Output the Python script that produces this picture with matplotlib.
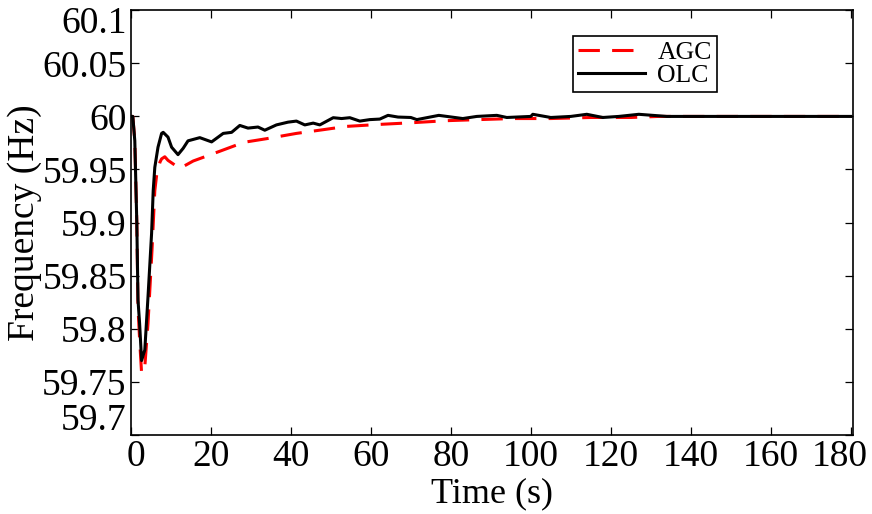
import matplotlib.pyplot as plt
import matplotlib.transforms as mtransforms
from matplotlib.ticker import FormatStrFormatter

plt.rcParams['font.family'] = ['Liberation Serif', 'DejaVu Serif']

# OLC trace
t_olc = [0, 0.5, 1.0, 1.5, 1.8, 2.2, 2.7, 3.5, 4.3, 5.2,
         5.6, 6.0, 6.8, 7.7, 8.1, 9.3, 10.2, 11.8, 13.1, 14.3,
         17.25, 20.2, 23.1, 25.2, 27.25, 29.3, 31.8, 33.5, 36.4, 39.3,
         41.4, 43.5, 45.6, 47.25, 50.6, 52.7, 54.75, 57.25, 59.75, 62.25,
         64.3, 66.8, 70, 71.5, 77, 83, 86.5, 91.5, 94, 100,
         100.5, 105, 110, 114, 118, 122, 127, 134, 140, 180]
f_olc = [60, 60, 59.977, 59.90, 59.827, 59.805, 59.770, 59.78, 59.83, 59.89,
         59.93, 59.952, 59.971, 59.984, 59.985, 59.9805, 59.971, 59.964, 59.970, 59.977,
         59.980, 59.976, 59.984, 59.985, 59.9915, 59.989, 59.990, 59.987, 59.992, 59.9946,
         59.9956, 59.992, 59.9937, 59.992, 59.9988, 59.998, 59.9988, 59.9956, 59.997, 59.9975,
         60.001, 59.9994, 59.999, 59.997, 60.001, 59.998, 60.0, 60.001, 59.999, 60.0,
         60.002, 59.999, 60.0, 60.002, 59.999, 60.0, 60.002, 60.0, 60.0, 60.0]

# AGC trace
t_agc = [0, 0.5, 1.0, 1.5, 1.8, 2.2, 2.7, 3.5, 4.3, 5.3,
         6.0, 6.5, 7.3, 7.7, 8.5, 9.3, 12.25, 15.6, 18.5, 21.4,
         26.4, 28.9, 33.9, 41.4, 48.1, 53.9, 62.25, 70, 79, 87,
         95.5, 105, 115, 125, 132, 180]
f_agc = [60, 60, 59.977, 59.90, 59.82, 59.79, 59.758, 59.764, 59.805, 59.874,
         59.93, 59.946, 59.957, 59.960, 59.962, 59.9586, 59.951, 59.958, 59.962, 59.966,
         59.973, 59.976, 59.979, 59.984, 59.9875, 59.9906, 59.9925, 59.994, 59.996, 59.997,
         59.998, 59.998, 59.999, 59.999, 60.0, 60.0]

xticks = [0, 20, 40, 60, 80, 100, 120, 140, 160, 180]
yticks = [59.7, 59.75, 59.8, 59.85, 59.9, 59.95, 60, 60.05, 60.1]

fig = plt.figure(figsize=(8.72, 5.14), dpi=100)
ax = fig.add_axes([0.150, 0.154, 0.828, 0.826])

ax.plot(t_agc, f_agc, color='red', lw=2.2, dashes=(7, 4), label='AGC')
ax.plot(t_olc, f_olc, color='black', lw=2.2, label='OLC')

ax.set_xlim(0, 180.5)
ax.set_ylim(59.7, 60.1)
ax.set_xticks(xticks)
ax.set_yticks(yticks)
ax.yaxis.set_major_formatter(FormatStrFormatter('%g'))
ax.tick_params(direction='in', top=True, right=True, length=6, labelsize=27,
               width=0.9, pad=3)
for s in ax.spines.values():
    s.set_linewidth(1.2)


def nudge(tick, dx, dy):
    # shift an end tick label inward (points)
    lab = tick.label1
    lab.set_transform(lab.get_transform() +
                      mtransforms.ScaledTranslation(dx / 72, dy / 72, fig.dpi_scale_trans))


xt = ax.xaxis.get_major_ticks()
yt = ax.yaxis.get_major_ticks()
nudge(xt[0], 4, 0)
nudge(xt[-1], -8, 0)
nudge(yt[0], 0, 13)
nudge(yt[-1], 0, -7)

ax.set_xlabel('Time (s)', fontsize=26, labelpad=3)
ax.set_ylabel('Frequency (Hz)', fontsize=27, labelpad=0)

leg = ax.legend(loc='upper left', bbox_to_anchor=(0.612, 0.94), fontsize=18.5,
                fancybox=False, edgecolor='black', framealpha=1,
                handlelength=2.6, handletextpad=0.5, borderpad=0.2,
                labelspacing=0.0, borderaxespad=0)
leg.get_frame().set_linewidth(1.2)

fig.savefig('out.png', dpi=100)
